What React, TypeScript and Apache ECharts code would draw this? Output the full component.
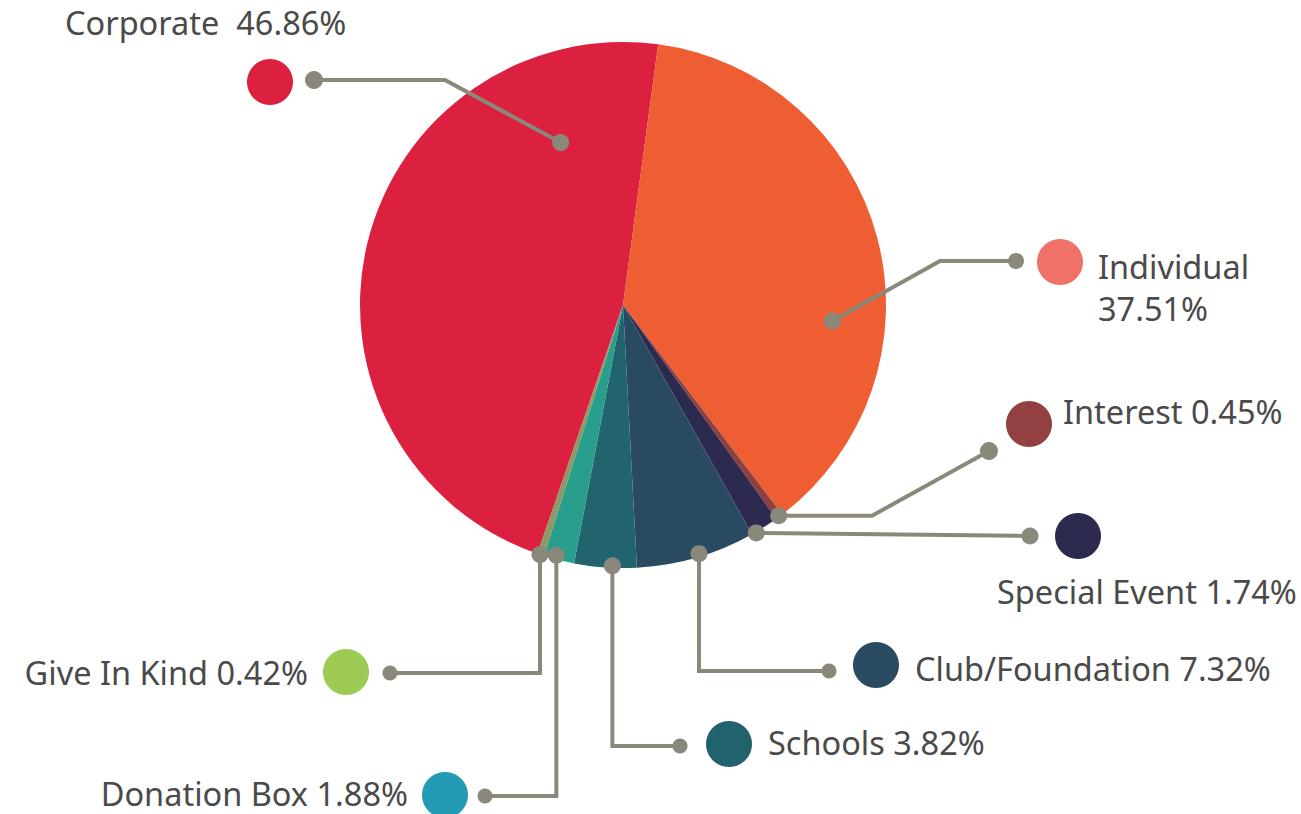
import React, { useEffect, useRef } from "react";
import * as echarts from "echarts";

const categories = ["Corporate", "Individual", "Interest", "Special Event", "Club/Foundation", "Schools", "Donation Box", "Give In Kind"];
const shares = [46.86, 37.51, 0.45, 1.74, 7.32, 3.82, 1.88, 0.42];
const labelTexts = ["Corporate  46.86%", "Individual\n37.51%", "Interest 0.45%", "Special Event 1.74%", "Club/Foundation 7.32%", "Schools 3.82%", "Donation Box 1.88%", "Give In Kind 0.42%"];
const sliceColors = ["#DC203F", "#EF5D33", "#8E4040", "#2D2A50", "#2A4A62", "#22646E", "#2A9E8C", "#8D9A63"];
const legendColors = ["#DC203F", "#F07167", "#934040", "#2D2A50", "#2A4A62", "#21626D", "#239BB5", "#9DCA53"];

const CX = 623;
const CY = 305;
const R = 263;
const START_CW = 199; // clockwise degrees from 12 o'clock where the first slice starts
const LINE = "#8A887A";
const TEXT = "#4A4A4A";
const FONT = "'Noto Sans', sans-serif";
const FS = 32.5;

// where along each slice (0..1) and at what radius the leader line starts
const anchorFrac = [0.83, 0.642, 0.5, 0.85, 0.47, 0.39, 0.62, 0.6];
const anchorRad = [174, 210, 262, 264, 260, 261, 259, 263];

function anchorPoint(i: number): [number, number] {
  const total = shares.reduce((a, b) => a + b, 0);
  let cum = 0;
  for (let k = 0; k < i; k++) cum += shares[k];
  const deg = START_CW + ((cum + shares[i] * anchorFrac[i]) / total) * 360;
  const t = (deg * Math.PI) / 180;
  return [CX + anchorRad[i] * Math.sin(t), CY - anchorRad[i] * Math.cos(t)];
}

export default function App() {
  const ref = useRef<HTMLDivElement>(null);
  useEffect(() => {
    if (!ref.current) return;
    const chart = echarts.init(ref.current, null, { renderer: "svg" });
    const a = categories.map((_, i) => anchorPoint(i));

    // leader line routes (anchor -> bends -> outer end)
    const routes: [number, number][][] = [
      [a[0], [445, 80], [314, 80]],
      [a[1], [940, 261], [1016, 261]],
      [a[2], [872, a[2][1]], [989, 451]],
      [a[3], [1030, 536]],
      [a[4], [a[4][0], 671], [829, 671]],
      [a[5], [a[5][0], 746], [680, 746]],
      [a[6], [a[6][0], 796], [485, 796]],
      [a[7], [a[7][0], 673], [390, 673]],
    ];
    const outerR = [9, 8, 9, 8.5, 7.5, 7.5, 7.5, 7.5];
    const legendDots: [number, number][] = [
      [270, 82], [1060, 262], [1029, 424], [1078, 536], [876, 665], [729, 744], [445, 795], [346, 672],
    ];
    const textPos: { x: number; y: number; align: string }[] = [
      { x: 65, y: 22, align: "left" },
      { x: 1098, y: 287, align: "left" },
      { x: 1063, y: 411, align: "left" },
      { x: 997, y: 591, align: "left" },
      { x: 915, y: 668, align: "left" },
      { x: 768, y: 742, align: "left" },
      { x: 408, y: 793, align: "right" },
      { x: 308, y: 672, align: "right" },
    ];

    const graphics: any[] = [];
    routes.forEach((pts, i) => {
      graphics.push({
        type: "polyline",
        z: 100,
        shape: { points: pts },
        style: { stroke: LINE, lineWidth: 4, fill: null },
      });
      graphics.push({ type: "circle", z: 101, shape: { cx: pts[0][0], cy: pts[0][1], r: 8.5 }, style: { fill: LINE } });
      const e = pts[pts.length - 1];
      graphics.push({ type: "circle", z: 101, shape: { cx: e[0], cy: e[1], r: outerR[i] }, style: { fill: LINE } });
      graphics.push({ type: "circle", z: 101, shape: { cx: legendDots[i][0], cy: legendDots[i][1], r: 23 }, style: { fill: legendColors[i] } });
      graphics.push({
        type: "text",
        z: 101,
        x: textPos[i].x,
        y: textPos[i].y,
        style: {
          text: labelTexts[i],
          fill: TEXT,
          font: `400 ${FS}px ${FONT}`,
          align: textPos[i].align,
          verticalAlign: "middle",
          lineHeight: i === 1 ? 42 : 34,
        },
      });
    });

    chart.setOption({
      animation: false,
      backgroundColor: "#ffffff",
      series: [
        {
          type: "pie",
          center: [CX, CY],
          radius: [0, R],
          startAngle: 90 - START_CW,
          clockwise: true,
          label: { show: false },
          labelLine: { show: false },
          silent: true,
          itemStyle: { borderWidth: 0 },
          data: categories.map((c, i) => ({ name: c, value: shares[i], itemStyle: { color: sliceColors[i] } })),
        },
      ],
      graphic: graphics,
    });
    return () => chart.dispose();
  }, []);
  return <div ref={ref} style={{ position: "fixed", left: 0, top: 0, width: 1301, height: 814 }} />;
}
